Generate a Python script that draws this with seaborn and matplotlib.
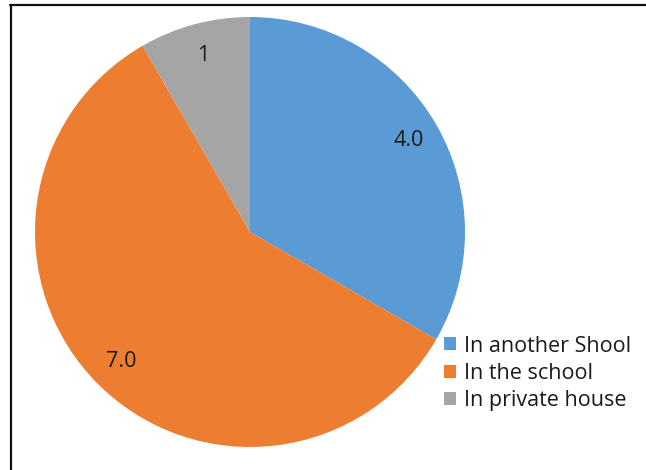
import matplotlib
matplotlib.use("Agg")
import matplotlib.pyplot as plt
from matplotlib.lines import Line2D
from matplotlib.patches import Patch
import seaborn as sns

categories = ["In another Shool", "In the school", "In private house"]
values = [4, 7, 1]
value_labels = ["4.0", "7.0", "1"]
colors = ["#5B9BD5", "#ED7D31", "#A5A5A5"]

sns.set_theme(style="white")
plt.rcParams["font.family"] = ["Open Sans", "DejaVu Sans"]

W, H = 646, 470
fig = plt.figure(figsize=(W / 100, H / 100), dpi=100)
fig.patch.set_facecolor("white")

# pie axes: centre (250, 232) px, radius 215 px
cx, cy, r = 250, 232, 215
ax = fig.add_axes([(cx - r) / W, (H - cy - r) / H, 2 * r / W, 2 * r / H])

label_iter = iter(value_labels)
wedges, texts, autotexts = ax.pie(
    values,
    colors=sns.color_palette(colors),
    startangle=90,
    counterclock=False,
    autopct=lambda p: next(label_iter),
    pctdistance=0.85,
    radius=1.0,
    wedgeprops=dict(linewidth=0),
    textprops=dict(fontsize=15.5, color="#1a1a1a"),
)
ax.set_xlim(-1, 1)
ax.set_ylim(-1, 1)
ax.set_aspect("equal")
ax.axis("off")

handles = [Patch(facecolor=c, edgecolor="none") for c in colors]
fig.legend(
    handles, categories,
    loc="upper left",
    bbox_to_anchor=(444 / W, 1 - 335.5 / H),
    frameon=False,
    fontsize=15.5,
    handlelength=0.55,
    handleheight=0.55,
    handletextpad=0.4,
    labelspacing=0.3,
    borderaxespad=0,
    borderpad=0,
    labelcolor="#1a1a1a",
)

# frame lines along top and left edges
fig.add_artist(Line2D([10 / W, 1], [1 - 4.5 / H, 1 - 4.5 / H], color="#111111", lw=1.6,
                      transform=fig.transFigure))
fig.add_artist(Line2D([11 / W, 11 / W], [0, 1 - 4.5 / H], color="#111111", lw=1.6,
                      transform=fig.transFigure))

fig.savefig("out.png", dpi=100, facecolor="white")
